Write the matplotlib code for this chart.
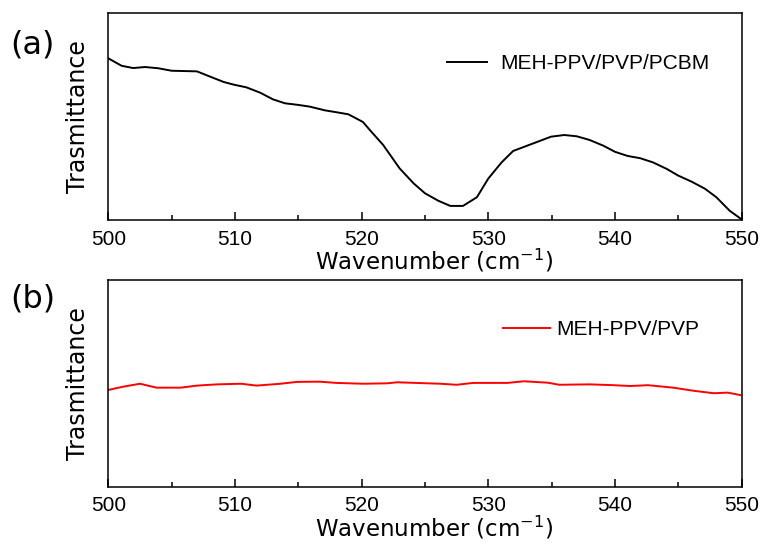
import matplotlib
matplotlib.use('Agg')
import matplotlib.pyplot as plt
from matplotlib.ticker import MultipleLocator

# panel (a): MEH-PPV/PVP/PCBM
wn_a = [500, 501.05, 501.97, 502.9, 503.95, 505.0, 507.0, 507.9, 509.1, 509.9, 510.9,
        512.0, 513.0, 513.95, 514.9, 515.9, 517.1, 518.0, 518.95, 520.1, 520.65, 521.7,
        523.0, 524.1, 525.0, 526.05, 527.0, 528.0, 529.1, 530.0, 531.05, 531.96, 533.0,
        534.0, 534.95, 536.0, 536.97, 538.0, 539.1, 540.0, 541.0, 542.0, 543.0, 544.1,
        545.0, 546.05, 547.1, 548.0, 549.05, 550]
tr_a = [0.780, 0.744, 0.733, 0.738, 0.732, 0.720, 0.717, 0.695, 0.666, 0.653, 0.640,
        0.614, 0.582, 0.563, 0.556, 0.547, 0.529, 0.520, 0.510, 0.473, 0.434, 0.362,
        0.249, 0.177, 0.129, 0.093, 0.068, 0.068, 0.110, 0.200, 0.278, 0.333, 0.357,
        0.380, 0.402, 0.410, 0.404, 0.386, 0.358, 0.329, 0.309, 0.298, 0.278, 0.246,
        0.214, 0.185, 0.151, 0.110, 0.045, 0.003]

# panel (b): MEH-PPV/PVP
wn_b = [500, 501.2, 502.5, 503.8, 505.7, 507.0, 508.6, 510.5, 511.7, 513.6, 514.9,
        516.7, 518.0, 520.1, 522.0, 522.8, 526.2, 527.5, 528.8, 531.5, 532.8, 534.7,
        535.6, 538.0, 539.9, 541.2, 542.6, 544.6, 546.2, 547.8, 548.9, 550]
tr_b = [0.468, 0.484, 0.498, 0.479, 0.479, 0.489, 0.495, 0.498, 0.489, 0.498, 0.507,
        0.508, 0.502, 0.498, 0.500, 0.505, 0.498, 0.493, 0.502, 0.502, 0.510, 0.503,
        0.493, 0.495, 0.491, 0.487, 0.491, 0.479, 0.464, 0.452, 0.455, 0.442]

fig = plt.figure(figsize=(7.62, 5.45), dpi=100)
ax1 = fig.add_axes([0.1421, 0.5963, 0.8312, 0.3804])
ax2 = fig.add_axes([0.1421, 0.1070, 0.8312, 0.3793])

# ax, x, y, colour, label, tag, legend anchor, handle length, text pad, tag y
panels = [(ax1, wn_a, tr_a, 'black', 'MEH-PPV/PVP/PCBM', '(a)', (0.535, 0.753), 1.92, 0.62, 0.917),
          (ax2, wn_b, tr_b, 'red', 'MEH-PPV/PVP', '(b)', (0.623, 0.758), 2.26, 0.29, 0.985)]
for ax, x, y, c, lab, tag, anc, hl, htp, ty in panels:
    ax.plot(x, y, color=c, lw=1.4, label=lab)
    ax.set_xlim(500, 550); ax.set_ylim(0, 1)
    ax.xaxis.set_major_locator(MultipleLocator(10))
    ax.xaxis.set_minor_locator(MultipleLocator(5))
    ax.tick_params(axis='x', which='major', direction='in', length=6, width=1.1,
                   pad=7, labelsize=15, top=False)
    ax.tick_params(axis='x', which='minor', direction='in', length=3.5, width=1.1, top=False)
    ax.set_yticks([])
    for lbl in ax.get_xticklabels():
        lbl.set_fontfamily('Liberation Sans')
    for s in ax.spines.values():
        s.set_linewidth(1.1)
    ax.set_xlabel('Wavenumber (cm$^{-1}$)', fontsize=16.5, family='DejaVu Sans', labelpad=-1)
    ax.xaxis.label.set_x(0.515)
    ax.set_ylabel('Trasmittance', fontsize=17, family='DejaVu Sans', labelpad=13)
    ax.legend(loc='center left', bbox_to_anchor=anc, frameon=False, borderpad=0,
              borderaxespad=0, prop={'family': 'Liberation Sans', 'size': 15},
              handlelength=hl, handletextpad=htp)
    ax.text(-0.155, ty, tag, transform=ax.transAxes, fontsize=23,
            family='DejaVu Sans', ha='left', va='top')

fig.savefig('out.png', dpi=100, facecolor='white')
